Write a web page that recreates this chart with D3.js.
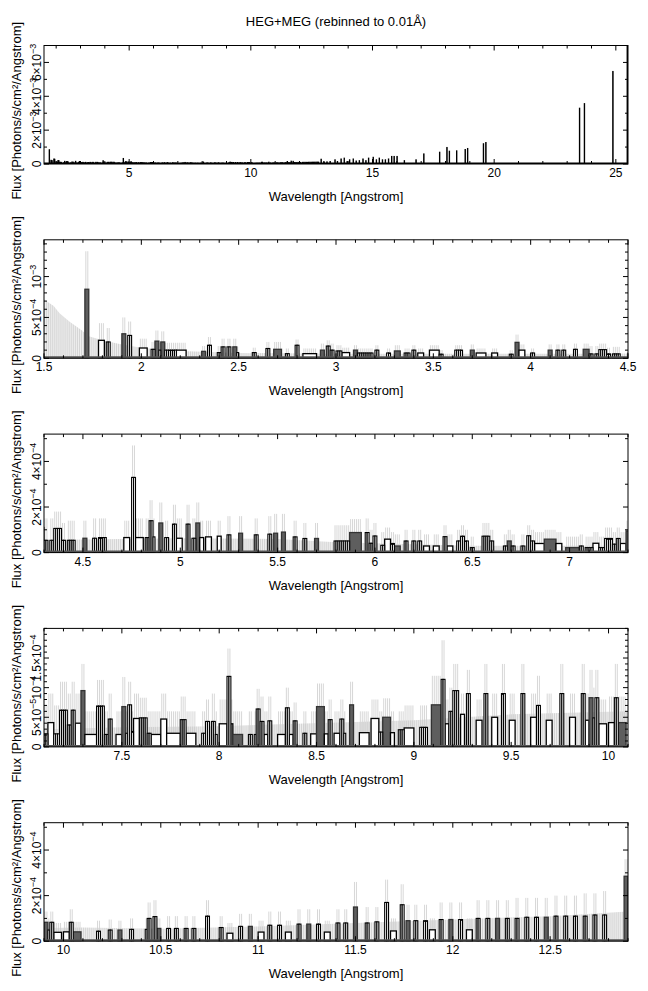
<!DOCTYPE html>
<html><head><meta charset="utf-8">
<script src="https://cdn.jsdelivr.net/npm/d3@7"></script>
<style>body{margin:0;background:#fff} text{font-family:"Liberation Sans",Arial,Helvetica,sans-serif;fill:#000}</style>
</head><body><svg id="c" width="648" height="991"></svg>
<script>
// ---------------- DATA ----------------
const chartTitle = "HEG+MEG (rebinned to 0.01Å)";
const xTitle = "Wavelength [Angstrom]";
const yTitle = "Flux [Photons/s/cm²/Angstrom]";
const binWidth = 0.01; // Angstrom

// runs of bins: [start wavelength, number of bins, flux (1e-4), upper error (1e-4), style]
// style: b = single-bin outlines, w = open box, d = dark filled
const specRunsA = [
 [1.71,2,8.45,13.1,'d'],[1.78,3,2.2,4.3,'w'],[1.82,2,2.0,3.7,'b'],[1.90,2,3.0,5.0,'d'],
 [1.93,2,2.8,4.5,'b'],[1.99,4,1.26,2.4,'w'],[2.05,2,1.1,2.0,'b'],[2.07,2,2.1,3.4,'d'],
 [2.09,1,1.0,1.9,'b'],[2.10,2,2.0,3.3,'d'],[2.12,6,1.0,1.9,'b'],[2.18,5,1.0,1.9,'w'],
 [2.31,2,0.85,1.5,'d'],[2.34,2,1.6,2.6,'b'],[2.39,2,0.7,1.5,'b'],[2.41,2,1.4,2.4,'b'],
 [2.44,2,1.4,2.4,'b'],[2.47,2,1.4,2.4,'d'],[2.49,1,0.7,1.4,'b'],[2.57,2,0.7,1.3,'b'],
 [2.64,2,1.2,2.0,'b'],[2.68,4,1.1,2.0,'d'],[2.74,2,0.57,1.2,'b'],[2.79,2,1.6,2.3,'b'],
 [2.83,7,0.57,1.2,'w'],[2.92,2,1.0,1.8,'d'],[2.95,2,1.5,2.2,'b'],[2.97,2,1.0,1.8,'b'],
 [3.00,3,0.9,1.6,'b'],[3.03,4,0.7,1.3,'w'],[3.09,2,1.0,1.6,'d'],[3.11,8,0.65,1.2,'b'],
 [3.20,2,1.0,1.6,'b'],[3.26,2,0.65,1.2,'b'],[3.30,3,0.9,1.6,'d'],[3.35,3,0.65,1.2,'b'],
 [3.39,2,1.0,1.6,'b'],[3.42,3,0.65,1.2,'w'],[3.48,5,1.0,1.6,'w'],[3.53,2,0.5,1.0,'b'],
 [3.61,4,1.0,1.6,'b'],[3.69,2,1.0,1.7,'d'],[3.72,5,0.65,1.2,'w'],[3.80,3,0.65,1.2,'w'],
 [3.89,2,0.5,1.0,'b'],[3.92,2,1.95,2.9,'d'],[3.94,3,1.0,1.7,'w'],[4.00,2,0.65,1.2,'b'],
 [4.09,2,1.0,1.7,'d'],[4.13,2,1.0,1.7,'b'],[4.16,2,1.0,1.7,'b'],[4.22,2,1.1,1.8,'b'],
 [4.27,3,1.1,1.8,'d']
];
const specRunsB = [
 [4.30,2,0.54,1.5,'b'],[4.33,2,0.54,1.5,'b'],[4.35,4,1.06,1.8,'b'],[4.39,2,0.54,1.3,'b'],
 [4.42,4,0.54,1.4,'b'],[4.50,2,0.63,1.4,'d'],[4.55,2,0.63,1.5,'b'],[4.58,4,0.66,1.5,'b'],
 [4.71,3,0.66,1.4,'w'],[4.75,2,3.3,4.7,'b'],[4.77,4,0.66,1.5,'w'],[4.82,2,0.66,1.5,'b'],
 [4.84,2,1.4,2.3,'b'],[4.86,1,0.69,1.5,'b'],[4.89,2,1.3,2.2,'d'],[4.92,2,0.66,1.4,'b'],
 [4.96,2,1.25,2.1,'b'],[4.98,3,0.63,1.5,'w'],[5.03,2,1.25,2.1,'b'],[5.06,2,0.63,1.5,'b'],
 [5.08,2,1.3,2.2,'d'],[5.10,2,0.66,1.4,'w'],[5.13,3,0.69,1.4,'w'],[5.19,2,0.72,1.4,'w'],
 [5.24,2,0.78,1.6,'b'],[5.30,2,0.85,1.6,'d'],[5.38,2,0.78,1.5,'b'],[5.45,2,0.81,1.6,'b'],
 [5.48,2,0.85,1.7,'d'],[5.52,2,0.9,1.7,'d'],[5.58,2,0.69,1.4,'b'],[5.63,2,0.62,1.3,'b'],
 [5.69,2,0.62,1.3,'d'],[5.79,8,0.51,1.2,'b'],[5.87,6,0.88,1.47,'d'],[5.95,2,0.88,1.5,'b'],
 [5.97,2,0.41,1.0,'b'],[5.99,2,0.73,1.3,'b'],[6.03,2,0.32,0.9,'b'],[6.05,3,0.59,1.1,'w'],
 [6.08,2,0.4,0.9,'b'],[6.10,3,0.29,0.8,'d'],[6.15,2,0.51,1.0,'b'],[6.19,2,0.51,1.0,'b'],
 [6.22,2,0.51,1.0,'b'],[6.25,3,0.29,0.8,'w'],[6.30,3,0.29,0.8,'w'],[6.35,2,0.7,1.2,'b'],
 [6.37,3,0.29,0.8,'w'],[6.42,2,0.51,1.0,'b'],[6.44,2,0.72,1.2,'b'],[6.46,2,0.51,1.0,'b'],
 [6.49,2,0.22,0.7,'b'],[6.55,2,0.72,1.3,'b'],[6.57,2,0.72,1.3,'b'],[6.59,2,0.51,1.0,'b'],
 [6.66,2,0.29,0.8,'b'],[6.68,2,0.51,1.0,'d'],[6.70,2,0.29,0.8,'b'],[6.75,2,0.29,0.8,'b'],
 [6.78,2,0.74,1.2,'b'],[6.80,2,0.51,1.0,'b'],[6.82,5,0.4,0.9,'w'],[6.87,6,0.59,1.0,'d'],
 [6.93,3,0.4,0.9,'w'],[6.98,7,0.22,0.7,'d'],[7.05,2,0.29,0.8,'b'],[7.08,4,0.22,0.7,'b'],
 [7.12,3,0.41,0.9,'w'],[7.15,3,0.22,0.7,'b'],[7.18,4,0.62,1.1,'b'],[7.22,2,0.37,0.9,'b'],
 [7.24,2,0.62,1.1,'b'],[7.26,3,0.4,0.9,'w'],[7.29,2,0.95,1.4,'d']
];
const specRunsC = [
 [7.31,6,0.21,0.6,'w'],[7.37,4,0.69,1.13,'b'],[7.41,2,0.21,0.6,'b'],[7.43,2,0.47,0.9,'b'],
 [7.47,3,0.21,0.6,'w'],[7.50,2,0.68,1.18,'d'],[7.52,1,0.23,0.6,'b'],[7.53,2,0.71,1.1,'b'],
 [7.55,1,0.26,0.6,'b'],[7.56,3,0.48,0.9,'w'],[7.59,4,0.49,0.83,'b'],[7.63,2,0.23,0.6,'b'],
 [7.65,5,0.21,0.6,'w'],[7.70,3,0.47,0.9,'w'],[7.73,7,0.23,0.6,'w'],[7.80,3,0.46,0.85,'b'],
 [7.83,5,0.23,0.6,'w'],[7.91,2,0.23,0.6,'b'],[7.93,2,0.43,0.8,'b'],[7.96,2,0.43,0.9,'b'],
 [7.98,1,0.21,0.6,'b'],[8.00,4,0.39,0.8,'w'],[8.04,2,1.19,1.66,'b'],[8.06,1,0.39,0.8,'w'],
 [8.07,5,0.21,0.6,'d'],[8.15,2,0.21,0.6,'b'],[8.18,1,0.21,0.6,'b'],[8.19,2,0.64,0.98,'b'],
 [8.21,2,0.43,0.85,'b'],[8.23,2,0.21,0.6,'w'],[8.25,2,0.44,0.85,'b'],[8.30,4,0.21,0.6,'w'],
 [8.34,2,0.66,1.0,'b'],[8.36,2,0.21,0.6,'w'],[8.38,2,0.44,0.75,'b'],[8.43,2,0.23,0.6,'b'],
 [8.47,3,0.22,0.6,'w'],[8.50,4,0.68,1.07,'d'],[8.54,2,0.22,0.6,'w'],[8.56,2,0.46,0.8,'b'],
 [8.59,3,0.23,0.6,'w'],[8.62,2,0.47,0.8,'b'],[8.64,1,0.23,0.6,'b'],[8.67,2,0.71,1.1,'d'],
 [8.72,5,0.24,0.6,'w'],[8.78,4,0.48,0.8,'w'],[8.82,2,0.25,0.6,'b'],[8.84,4,0.5,0.82,'d'],
 [8.88,2,0.24,0.6,'w'],[8.92,3,0.29,0.6,'b'],[8.95,5,0.32,0.7,'w'],[9.03,4,0.33,0.7,'b'],
 [9.09,5,0.71,1.2,'d'],[9.14,2,1.14,1.8,'b'],[9.16,2,0.39,0.8,'w'],[9.18,2,0.6,1.0,'b'],
 [9.20,3,0.95,1.4,'b'],[9.24,2,0.55,0.9,'w'],[9.27,2,0.9,1.3,'b'],[9.32,3,0.45,0.8,'w'],
 [9.36,2,0.9,1.4,'b'],[9.40,3,0.5,0.9,'w'],[9.45,2,0.9,1.4,'b'],[9.49,3,0.45,0.9,'w'],
 [9.55,2,0.9,1.4,'b'],[9.60,3,0.5,0.9,'w'],[9.63,2,0.7,1.2,'b'],[9.68,3,0.45,0.9,'w'],
 [9.75,2,0.9,1.4,'b'],[9.80,3,0.5,0.9,'w'],[9.86,2,0.9,1.4,'b'],[9.88,2,0.45,0.9,'w']
];
const specRunsD = [
 [9.90,2,0.83,1.3,'d'],[9.92,1,0.49,1.0,'b'],[9.93,2,0.83,1.3,'b'],[9.95,4,0.39,0.8,'w'],
 [10.00,3,0.41,0.85,'w'],[10.03,2,0.83,1.4,'b'],[10.05,4,0.41,0.85,'d'],[10.17,2,0.44,0.9,'b'],
 [10.23,2,0.49,0.95,'b'],[10.28,2,0.49,0.9,'d'],[10.34,2,0.52,1.0,'b'],[10.42,1,0.52,1.0,'b'],
 [10.43,2,1.0,1.7,'b'],[10.46,2,1.08,1.8,'b'],[10.48,2,0.56,1.0,'d'],[10.53,2,0.56,1.1,'b'],
 [10.57,2,0.56,1.1,'b'],[10.62,2,0.56,1.1,'b'],[10.66,2,0.56,1.1,'b'],[10.73,2,1.1,1.8,'b'],
 [10.80,2,0.6,1.1,'b'],[10.84,3,0.35,0.8,'w'],[10.90,2,0.65,1.2,'b'],[10.95,2,0.65,1.2,'d'],
 [11.00,3,0.4,0.9,'w'],[11.05,2,0.7,1.3,'b'],[11.10,2,0.7,1.3,'b'],[11.14,3,0.4,0.9,'w'],
 [11.20,2,0.75,1.4,'b'],[11.25,2,0.75,1.4,'d'],[11.30,2,0.75,1.4,'b'],[11.34,3,0.4,0.9,'w'],
 [11.40,2,0.8,1.4,'b'],[11.44,2,0.8,1.4,'b'],[11.49,2,1.5,2.6,'d'],[11.55,2,0.8,1.5,'b'],
 [11.60,2,0.85,1.5,'b'],[11.65,2,1.7,2.7,'b'],[11.68,3,0.45,1.0,'w'],[11.73,2,1.6,2.5,'b'],
 [11.76,2,0.9,1.6,'d'],[11.80,2,0.9,1.6,'b'],[11.85,2,0.9,1.6,'b'],[11.88,3,0.5,1.0,'w'],
 [11.93,2,0.95,1.7,'b'],[11.98,2,0.95,1.7,'d'],[12.03,2,0.95,1.7,'b'],[12.07,3,0.5,1.0,'w'],
 [12.12,2,1.0,1.8,'b'],[12.17,2,1.0,1.8,'b'],[12.22,2,1.0,1.8,'d'],[12.27,2,1.0,1.8,'b'],
 [12.32,2,1.0,1.9,'b'],[12.37,2,1.05,1.9,'b'],[12.42,2,1.05,1.9,'b'],[12.47,2,1.05,1.9,'d'],
 [12.52,2,1.1,2.0,'b'],[12.57,2,1.1,2.0,'b'],[12.62,2,1.1,2.0,'b'],[12.67,2,1.1,2.1,'b'],
 [12.72,2,1.15,2.1,'b'],[12.77,2,1.15,2.2,'b'],[12.88,2,2.85,3.6,'d']
];
// long-wavelength part, only shown in the overview panel
const specRunsE = [
 [13.00,2,1.2,2,'b'],[13.12,2,1.3,2,'b'],[13.25,2,1.5,2,'b'],[13.45,2,2.5,3,'b'],[13.55,2,1.5,2,'b'],
 [13.70,2,3.0,4,'b'],[13.83,2,3.5,4,'b'],[13.95,2,1.5,2,'b'],[14.05,2,2.5,3,'b'],[14.20,2,3.0,4,'b'],
 [14.32,2,1.8,2,'b'],[14.45,2,2.0,3,'b'],[14.60,2,3.0,4,'b'],[14.72,2,2.0,3,'b'],[14.83,2,3.5,4,'b'],
 [15.02,2,4.0,5,'b'],[15.15,2,2.5,3,'b'],[15.27,2,3.5,4,'b'],[15.40,2,2.5,3,'b'],[15.52,2,2.5,3,'b'],
 [15.65,2,3.0,4,'b'],[15.78,2,4.5,5,'b'],[15.88,2,4.5,5,'b'],[16.00,2,4.5,5,'b'],[16.30,2,2.0,3,'b'],
 [16.78,2,2.5,3,'b'],[17.10,2,6.0,7,'b'],[17.75,2,7.0,8,'b'],[18.05,2,9.8,11,'b'],[18.15,2,7.6,9,'b'],
 [18.45,2,7.8,9,'b'],[18.80,2,8.6,10,'b'],[18.90,2,9.2,10,'b'],[19.55,2,12.0,13,'b'],[19.65,2,12.7,14,'b'],
 [23.50,2,33.0,36,'b'],[23.70,2,35.7,38,'b'],[24.87,2,54.7,58,'b'],[25.46,3,80.0,90,'b']
];
// upper error of empty bins (1e-4), drawn as the hatched background
const bgEnvelope = [
 [1.5,7.2],[1.55,6.4],[1.58,5.5],[1.63,4.5],[1.69,3.5],[1.73,2.7],[1.8,2.2],[1.9,1.7],[2.0,1.3],
 [2.1,1.05],[2.2,0.9],[2.5,0.65],[3.0,0.55],[4.3,0.55],[5.0,0.63],[5.5,0.6],[5.8,0.45],[6.5,0.3],
 [7.1,0.3],[7.5,0.33],[8.0,0.35],[9.0,0.45],[9.5,0.55],[10.1,0.6],[10.5,0.55],[11.0,0.65],
 [11.5,0.8],[12.0,0.95],[12.5,1.1],[12.9,1.3]
];
// panels
const panelXDomains = [[1.5,25.5],[1.5,4.5],[4.3,7.3],[7.1,10.1],[9.9,12.9]];
const panelYMax = [7e-3,1.45e-3,5.2e-4,2e-4,5.2e-4];
const panelYLabels = [[0,2e-3,4e-3,6e-3],[0,5e-4,1e-3],[0,2e-4,4e-4],[0,5e-5,1e-4,1.5e-4],[0,2e-4,4e-4]];
const panelYMinor = [1e-3,1e-4,1e-4,1e-5,1e-4];
const panelXMajor = [5,0.5,0.5,0.5,0.5];
const panelXMinor = [1,0.1,0.1,0.1,0.1];

// ---------------- DRAW ----------------
const svg = d3.select("#c");
const X0 = 44, X1 = 628, top0 = 45.5, stepY = 194.3, PH = 118.5;
const defs = svg.append("defs");

svg.append("text").attr("x",336).attr("y",26).attr("text-anchor","middle")
  .attr("font-size",13).text(chartTitle);

function expand(runs){
  const out=[];
  runs.forEach(r=>{ for(let i=0;i<r[1];i++){ const lo=+(r[0]+i*binWidth).toFixed(4);
    out.push({lo:lo,hi:lo+binWidth,v:r[2]*1e-4,e:r[3]*1e-4,s:r[4]}); } });
  return out;
}
function stepsIn(a,b,s){ const o=[]; for(let k=Math.ceil(a/s-1e-6); k*s<=b*(1+1e-9)+1e-12; k++) o.push(k*s); return o; }
function isMult(v,s){ return Math.abs(v/s-Math.round(v/s))<1e-6; }
function fmtX(v){ return String(+v.toFixed(3)); }
function sciLabel(t,v){
  if(v===0){ t.text("0"); return; }
  const e=Math.floor(Math.log10(v)+1e-9); const m=+(v/Math.pow(10,e)).toFixed(2);
  t.append("tspan").text((m===1?"":m+"×")+"10");
  t.append("tspan").attr("font-size",9).attr("dy",-5).text("−"+(-e));
}

const detailRuns = [].concat(specRunsA,specRunsB,specRunsC,specRunsD);
const allRuns = detailRuns.concat(specRunsE);

panelXDomains.forEach((dom,i)=>{
  const top = top0+i*stepY, bot = top+PH;
  const x = d3.scaleLinear().domain(dom).range([X0,X1]);
  const y = d3.scaleLinear().domain([0,panelYMax[i]]).range([bot,top]);
  const cid="clip"+i;
  defs.append("clipPath").attr("id",cid).append("rect").attr("x",X0).attr("y",top).attr("width",X1-X0).attr("height",PH);
  const g = svg.append("g").attr("clip-path","url(#"+cid+")");
  const inDom = r => r[0]+r[1]*binWidth>=dom[0]-0.02 && r[0]<=dom[1]+0.02;

  if(i===0){
    g.selectAll("rect.bar").data(allRuns.filter(inDom)).join("rect")
      .attr("x",r=>x(r[0])).attr("width",r=>x(r[0]+r[1]*binWidth)-x(r[0]))
      .attr("y",r=>y(r[2]*1e-4)).attr("height",r=>bot-y(r[2]*1e-4))
      .attr("fill","#000").attr("stroke","#000").attr("stroke-width",0.9);
    g.append("line").attr("x1",X0).attr("x2",X1).attr("y1",bot-0.8).attr("y2",bot-0.8)
      .attr("stroke","#000").attr("stroke-width",1.6);
  } else {
    const pid="hatch"+i, bw=x(dom[0]+binWidth)-x(dom[0]);
    const pat=defs.append("pattern").attr("id",pid).attr("patternUnits","userSpaceOnUse")
      .attr("x",X0).attr("y",0).attr("width",bw).attr("height",10);
    pat.append("rect").attr("width",bw).attr("height",10).attr("fill","#efefef");
    pat.append("rect").attr("width",Math.min(0.9,bw)).attr("height",10).attr("fill","#d2d2d2");
    g.append("path").datum(bgEnvelope)
      .attr("d",d3.area().x(d=>x(d[0])).y0(bot).y1(d=>y(d[1]*1e-4)))
      .attr("fill","url(#"+pid+")");
    const runs = detailRuns.filter(inDom);
    const bins = expand(runs);
    g.selectAll("line.err").data(bins).join("line")
      .attr("x1",d=>x(d.lo+binWidth/2)).attr("x2",d=>x(d.lo+binWidth/2))
      .attr("y1",d=>y(d.v)).attr("y2",d=>y(d.e))
      .attr("stroke","#cdcdcd").attr("stroke-width",0.8);
    // open boxes and dark bars (one box per run)
    g.selectAll("rect.run").data(runs.filter(r=>r[4]!=='b')).join("rect")
      .attr("x",r=>x(r[0])).attr("width",r=>x(r[0]+r[1]*binWidth)-x(r[0]))
      .attr("y",r=>y(r[2]*1e-4)).attr("height",r=>bot-y(r[2]*1e-4))
      .attr("fill",r=>r[4]==='d'?"#5e5e5e":"#fff")
      .attr("stroke",r=>r[4]==='d'?"#333":"#000").attr("stroke-width",1.3);
    // single-bin outlines
    g.selectAll("rect.bin").data(bins.filter(d=>d.s==='b')).join("rect")
      .attr("x",d=>x(d.lo)).attr("width",d=>x(d.hi)-x(d.lo))
      .attr("y",d=>y(d.v)).attr("height",d=>bot-y(d.v))
      .attr("fill","#fff").attr("stroke","#000").attr("stroke-width",1.1);
    g.append("line").attr("x1",X0).attr("x2",X1).attr("y1",bot-1).attr("y2",bot-1)
      .attr("stroke","#555").attr("stroke-width",2);
  }

  // frame
  svg.append("rect").attr("x",X0).attr("y",top).attr("width",X1-X0).attr("height",PH)
    .attr("fill","none").attr("stroke","#000").attr("stroke-width",1);
  // x ticks
  const ax = svg.append("g").attr("stroke","#000").attr("stroke-width",1);
  stepsIn(dom[0],dom[1],panelXMinor[i]).forEach(v=>{
    const L = isMult(v,panelXMajor[i])?5:3, px=x(v);
    ax.append("line").attr("x1",px).attr("x2",px).attr("y1",bot).attr("y2",bot-L);
    ax.append("line").attr("x1",px).attr("x2",px).attr("y1",top).attr("y2",top+L);
  });
  stepsIn(dom[0],dom[1],panelXMajor[i]).forEach(v=>{
    svg.append("text").attr("x",x(v)).attr("y",bot+13).attr("text-anchor","middle")
      .attr("font-size",12).text(fmtX(v));
  });
  // y ticks
  const labs = panelYLabels[i];
  stepsIn(0,panelYMax[i],panelYMinor[i]).forEach(v=>{
    const major = labs.some(l=>Math.abs(l-v)<panelYMinor[i]*1e-3);
    const L = major?5:3, py=y(v);
    ax.append("line").attr("x1",X0).attr("x2",X0+L).attr("y1",py).attr("y2",py);
    ax.append("line").attr("x1",X1).attr("x2",X1-L).attr("y1",py).attr("y2",py);
  });
  labs.forEach(v=>{
    const t=svg.append("text").attr("transform","translate(41,"+y(v)+") rotate(-90)")
      .attr("text-anchor","middle").attr("font-size",12);
    sciLabel(t,v);
  });
  // titles
  svg.append("text").attr("x",336).attr("y",bot+37).attr("text-anchor","middle")
    .attr("font-size",13).text(xTitle);
  svg.append("text").attr("transform","translate(21,"+(top+PH/2+6)+") rotate(-90)")
    .attr("text-anchor","middle").attr("font-size",13).text(yTitle);
});
</script></body></html>
